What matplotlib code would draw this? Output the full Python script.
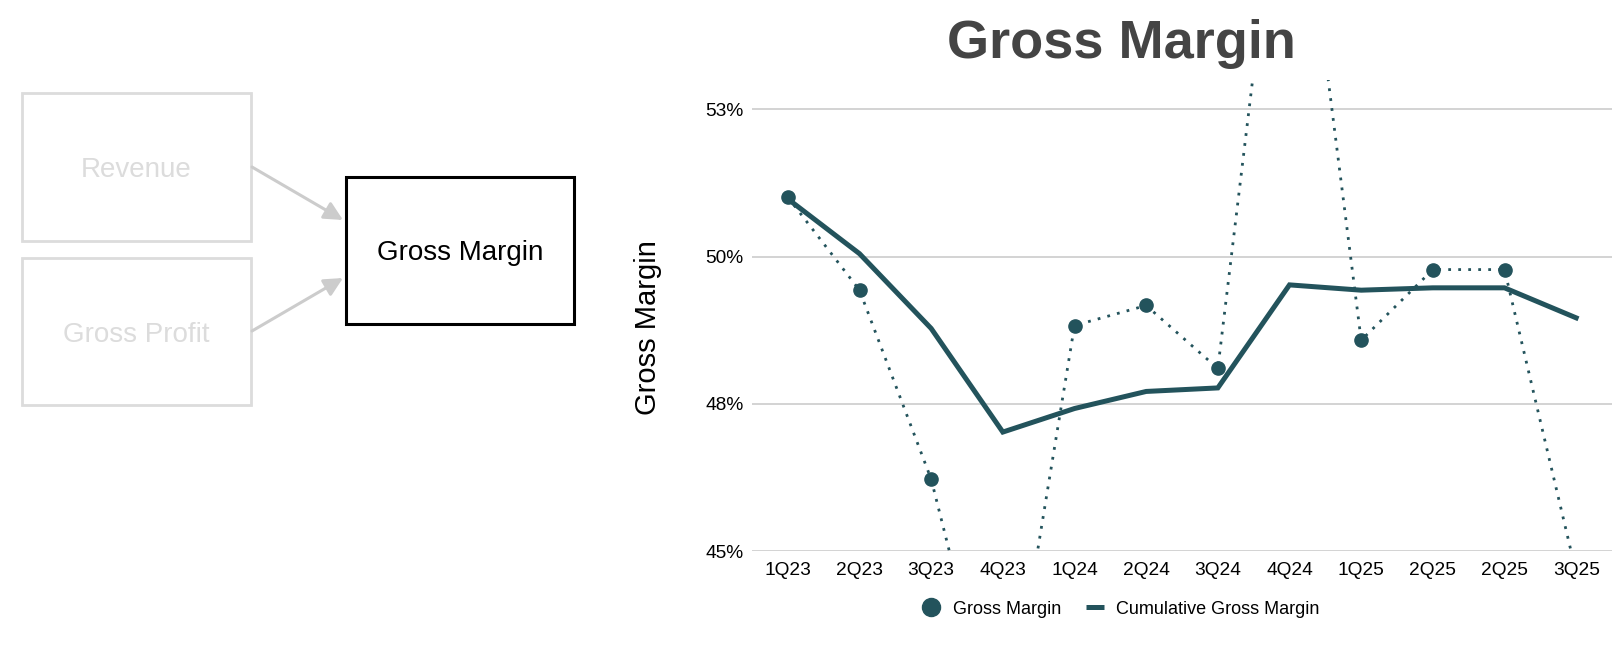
import matplotlib
matplotlib.use("Agg")
import matplotlib.pyplot as plt
from matplotlib.patches import Rectangle
from matplotlib.lines import Line2D
from matplotlib.ticker import FuncFormatter

plt.rcParams['font.family'] = ['Liberation Sans', 'DejaVu Sans']

# данные
quarters = ['1Q23', '2Q23', '3Q23', '4Q23', '1Q24', '2Q24', '3Q24', '4Q24',
            '1Q25', '2Q25', '2Q25', '3Q25']
gross_margin = [51.01, 49.43, 46.22, 41.4, 48.83, 49.17, 48.10, 58.2,
                48.58, 49.78, 49.78, 44.63]
cumulative_margin = [50.98, 50.05, 48.78, 47.02, 47.42, 47.71, 47.77, 49.52,
                     49.43, 49.47, 49.47, 48.96]
y_ticks = [45, 47.5, 50, 52.5]

teal = '#23535c'
W, H = 1616, 656

fig = plt.figure(figsize=(W / 100, H / 100), dpi=100)

# схема слева (в пикселях)
ax0 = fig.add_axes([0, 0, 1, 1])
ax0.set_xlim(0, W)
ax0.set_ylim(H, 0)
ax0.axis('off')

faded = '#dcdcdc'
boxes = [
    ('Revenue', 22, 93, 229, 148, faded, faded, 2),
    ('Gross Profit', 22, 258, 229, 147, faded, faded, 2),
    ('Gross Margin', 346, 177, 228, 147, 'black', 'black', 2.2),
]
for label, x, y, w, h, ec, tc, lw in boxes:
    ax0.add_patch(Rectangle((x, y), w, h, fill=False, edgecolor=ec, linewidth=lw))
    ax0.text(x + w / 2, y + h / 2 + 3, label, ha='center', va='center',
             fontsize=20, color=tc)

for (x1, y1), (x2, y2) in [((252, 167), (343, 220)), ((252, 331), (343, 278))]:
    ax0.annotate('', xy=(x2, y2), xytext=(x1, y1),
                 arrowprops=dict(arrowstyle='-|>', color='#cccccc', lw=2.2,
                                 mutation_scale=28, shrinkA=0, shrinkB=0))

# график
ax = fig.add_axes([752 / W, 1 - 551 / H, (1612 - 752) / W, (551 - 80) / H])
x = list(range(len(quarters)))

ax.plot(x, gross_margin, color=teal, linestyle=(0, (1, 2.6)), linewidth=2.0,
        marker='o', markersize=9.5, zorder=3)
ax.plot(x, cumulative_margin, color=teal, linewidth=3.6, solid_joinstyle='miter',
        zorder=2)

ax.set_xlim(-0.5, len(quarters) - 0.5)
ax.set_ylim(45, 53)
ax.set_xticks(x)
ax.set_xticklabels(quarters)
ax.set_yticks(y_ticks)
ax.yaxis.set_major_formatter(FuncFormatter(lambda v, p: f'{int(v + 0.5)}%'))
ax.tick_params(length=0, labelsize=13.8)
ax.tick_params(axis='x', pad=8)
ax.tick_params(axis='y', pad=6)
ax.grid(axis='y', color='#d0d0d0', linewidth=1.3)
ax.set_axisbelow(True)
for s in ax.spines.values():
    s.set_visible(False)

fig.text(648 / W, 1 - 328 / H, 'Gross Margin', rotation=90, ha='center',
         va='center', fontsize=21)
fig.text(1121 / W, 1 - 44 / H, 'Gross Margin', ha='center', va='center',
         fontsize=39, fontweight='bold', color='#444444')

handles = [
    Line2D([], [], color=teal, marker='o', linestyle='none', markersize=13),
    Line2D([], [], color=teal, linewidth=3.6, solid_capstyle='butt'),
]
fig.legend(handles, ['Gross Margin', 'Cumulative Gross Margin'], loc='center',
           bbox_to_anchor=(1121 / W, 1 - 609 / H), ncol=2, frameon=False,
           fontsize=13, handlelength=1.0, handletextpad=0.67, columnspacing=1.4)

fig.savefig('out.png', dpi=100)
